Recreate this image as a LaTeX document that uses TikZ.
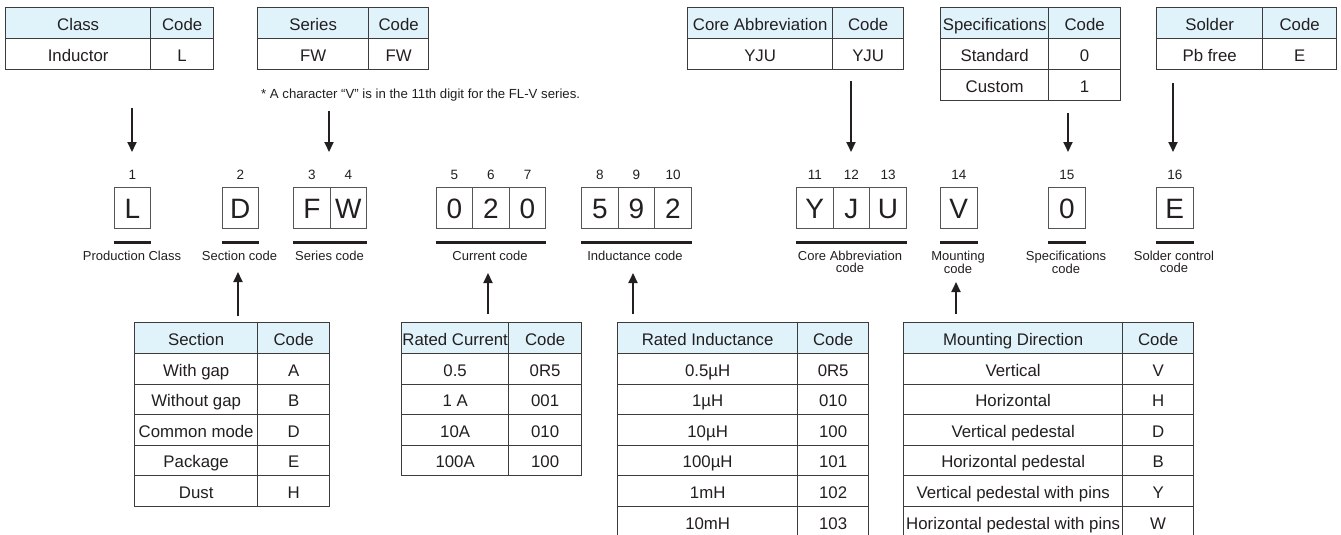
\documentclass[tikz,border=0pt]{standalone}
\usepackage{fontspec}
\setmainfont{Liberation Sans}
\usetikzlibrary{arrows.meta,calc}
\definecolor{hdr}{RGB}{224,243,251}
\definecolor{bcol}{RGB}{60,60,60}
\definecolor{bgray}{RGB}{85,85,85}
\definecolor{ink}{RGB}{35,31,32}
\newcommand\trow[9]{%
  \node[cell,#9,minimum width={(#3-(#2))*1pt},minimum height={(#6-(#5))*1pt}] (#1a) at (#2,#5) {\makebox[0pt]{#7}};
  \node[cell,#9,minimum width={(#4-(#3))*1pt},minimum height={(#6-(#5))*1pt}] (#1b) at (#3,#5) {\makebox[0pt]{#8}};}
\begin{document}
\begin{tikzpicture}[x=1pt,y=-1pt,
  cell/.style={draw=bcol,line width=1.3pt,inner sep=0pt,anchor=north west,
    font=\fontsize{16.8}{18}\selectfont,text=ink,text height=15pt,text depth=0pt},
  codebox/.style={draw=bgray,line width=1pt,inner sep=0pt,anchor=north west,
    minimum width=36.6pt,minimum height=41pt,font=\fontsize{28}{30}\selectfont,
    text=ink,text height=20pt,text depth=0pt},
  digit/.style={font=\fontsize{13.5}{14}\selectfont,text=ink,inner sep=0pt},
  lbl/.style={font=\fontsize{13}{12}\selectfont,text=ink,inner sep=0pt,align=center},
  uline/.style={line width=3pt,draw=ink},
  arr/.style={line width=2pt,draw=ink,-{Triangle[length=10pt,width=9pt]}}]
\useasboundingbox (0,0) rectangle (1341,535);
\fill[white] (0,0) rectangle (1341,535);

% ---- top tables
\trow{cl0}{5}{150}{213}{7}{38}{Class}{Code}{fill=hdr}
\trow{cl1}{5}{150}{213}{38}{69}{Inductor}{L}{fill=white}
\trow{se0}{257}{368}{428}{7}{38}{Series}{Code}{fill=hdr}
\trow{se1}{257}{368}{428}{38}{69}{FW}{FW}{fill=white}
\trow{co0}{687}{832}{903}{7}{38}{Core Abbreviation}{Code}{fill=hdr}
\trow{co1}{687}{832}{903}{38}{69}{YJU}{YJU}{fill=white}
\trow{sp0}{940}{1048}{1120}{7}{38}{Specifications}{Code}{fill=hdr}
\trow{sp1}{940}{1048}{1120}{38}{69}{Standard}{0}{fill=white}
\trow{sp2}{940}{1048}{1120}{69}{100}{Custom}{1}{fill=white}
\trow{so0}{1156}{1262}{1336}{7}{38}{Solder}{Code}{fill=hdr}
\trow{so1}{1156}{1262}{1336}{38}{69}{Pb free}{E}{fill=white}

\node[font=\fontsize{13.2}{14}\selectfont,text=ink,anchor=base west,inner sep=0pt] (note) at (261,98)
  {* A character “V” is in the 11th digit for the FL-V series.};

% ---- code boxes
\node[codebox] (b1) at (113.5,187) {L};
\node[codebox] (b2) at (221.5,187) {D};
\node[codebox] (b3) at (293,187) {F};
\node[codebox] (b4) at (329.6,187) {W};
\node[codebox] (b5) at (435.5,187) {0};
\node[codebox] (b6) at (472.1,187) {2};
\node[codebox] (b7) at (508.7,187) {0};
\node[codebox] (b8) at (581,187) {5};
\node[codebox] (b9) at (617.6,187) {9};
\node[codebox] (b10) at (654.2,187) {2};
\node[codebox] (b11) at (796,187) {Y};
\node[codebox] (b12) at (832.6,187) {J};
\node[codebox] (b13) at (869.2,187) {U};
\node[codebox] (b14) at (940,187) {V};
\node[codebox] (b15) at (1048,187) {0};
\node[codebox] (b16) at (1156,187) {E};

\foreach \i in {1,...,16}{
  \node[digit] (d\i) at ($(b\i.north)+(0,-12)$) {\i};
}

% ---- underlines
\draw[uline] ([yshift=-13pt]b1.south west) -- ([yshift=-13pt]b1.south east);
\draw[uline] ([yshift=-13pt]b2.south west) -- ([yshift=-13pt]b2.south east);
\draw[uline] ([yshift=-13pt]b3.south west) -- ([yshift=-13pt]b4.south east);
\draw[uline] ([yshift=-13pt]b5.south west) -- ([yshift=-13pt]b7.south east);
\draw[uline] ([yshift=-13pt]b8.south west) -- ([yshift=-13pt]b10.south east);
\draw[uline] ([yshift=-13pt]b11.south west) -- ([yshift=-13pt]b13.south east);
\draw[uline] ([yshift=-13pt]b14.south west) -- ([yshift=-13pt]b14.south east);
\draw[uline] ([yshift=-13pt]b15.south west) -- ([yshift=-13pt]b15.south east);
\draw[uline] ([yshift=-13pt]b16.south west) -- ([yshift=-13pt]b16.south east);

% ---- labels
\node[lbl] (l1) at (132,256) {Production Class};
\node[lbl] (l2) at (239.5,256) {Section code};
\node[lbl] (l3) at (329.5,256) {Series code};
\node[lbl] (l4) at (490,256) {Current code};
\node[lbl] (l5) at (635,256) {Inductance code};
\node[lbl] (l6) at (850,262) {Core Abbreviation\\code};
\node[lbl] (l7) at (958,262) {Mounting\\code};
\node[lbl] (l8) at (1066,262) {Specifications\\code};
\node[lbl] (l9) at (1174,262) {Solder control\\code};

% ---- bottom tables
\trow{sc0}{134}{257}{329}{322}{353}{Section}{Code}{fill=hdr}
\trow{sc1}{134}{257}{329}{353}{383.5}{With gap}{A}{fill=white}
\trow{sc2}{134}{257}{329}{383.5}{414}{Without gap}{B}{fill=white}
\trow{sc3}{134}{257}{329}{414}{444.5}{Common mode}{D}{fill=white}
\trow{sc4}{134}{257}{329}{444.5}{475}{Package}{E}{fill=white}
\trow{sc5}{134}{257}{329}{475}{506}{Dust}{H}{fill=white}

\trow{cu0}{401}{508}{581}{322}{353}{Rated Current}{Code}{fill=hdr}
\trow{cu1}{401}{508}{581}{353}{383.5}{0.5}{0R5}{fill=white}
\trow{cu2}{401}{508}{581}{383.5}{414}{1 A}{001}{fill=white}
\trow{cu3}{401}{508}{581}{414}{444.5}{10A}{010}{fill=white}
\trow{cu4}{401}{508}{581}{444.5}{475}{100A}{100}{fill=white}

\trow{in0}{617}{797}{868}{322}{353}{Rated Inductance}{Code}{fill=hdr}
\trow{in1}{617}{797}{868}{353}{383.5}{0.5µH}{0R5}{fill=white}
\trow{in2}{617}{797}{868}{383.5}{414}{1µH}{010}{fill=white}
\trow{in3}{617}{797}{868}{414}{444.5}{10µH}{100}{fill=white}
\trow{in4}{617}{797}{868}{444.5}{475}{100µH}{101}{fill=white}
\trow{in5}{617}{797}{868}{475}{506}{1mH}{102}{fill=white}
\trow{in6}{617}{797}{868}{506}{537}{10mH}{103}{fill=white}

\trow{mo0}{903}{1122}{1193}{322}{353}{Mounting Direction}{Code}{fill=hdr}
\trow{mo1}{903}{1122}{1193}{353}{383.5}{Vertical}{V}{fill=white}
\trow{mo2}{903}{1122}{1193}{383.5}{414}{Horizontal}{H}{fill=white}
\trow{mo3}{903}{1122}{1193}{414}{444.5}{Vertical pedestal}{D}{fill=white}
\trow{mo4}{903}{1122}{1193}{444.5}{475}{Horizontal pedestal}{B}{fill=white}
\trow{mo5}{903}{1122}{1193}{475}{506}{Vertical pedestal with pins}{Y}{fill=white}
\trow{mo6}{903}{1122}{1193}{506}{537}{Horizontal pedestal with pins}{W}{fill=white}

% ---- arrows
\coordinate (a1s) at (132,108);  \coordinate (a1e) at (132,152);
\coordinate (a2s) at (329,111);  \coordinate (a2e) at (329,152);
\coordinate (a3s) at (851,81);   \coordinate (a3e) at (851,152);
\coordinate (a4s) at (1068,113); \coordinate (a4e) at (1068,152);
\coordinate (a5s) at (1173,83);  \coordinate (a5e) at (1173,152);
\coordinate (u1s) at (238,316);  \coordinate (u1e) at (238,272);
\coordinate (u2s) at (488,314);  \coordinate (u2e) at (488,273);
\coordinate (u3s) at (633,314);  \coordinate (u3e) at (633,273);
\coordinate (u4s) at (956,314);  \coordinate (u4e) at (956,282);
\foreach \p in {a1,a2,a3,a4,a5,u1,u2,u3,u4}{
  \draw[arr] (\p s) -- (\p e);
}
\end{tikzpicture}
\end{document}
